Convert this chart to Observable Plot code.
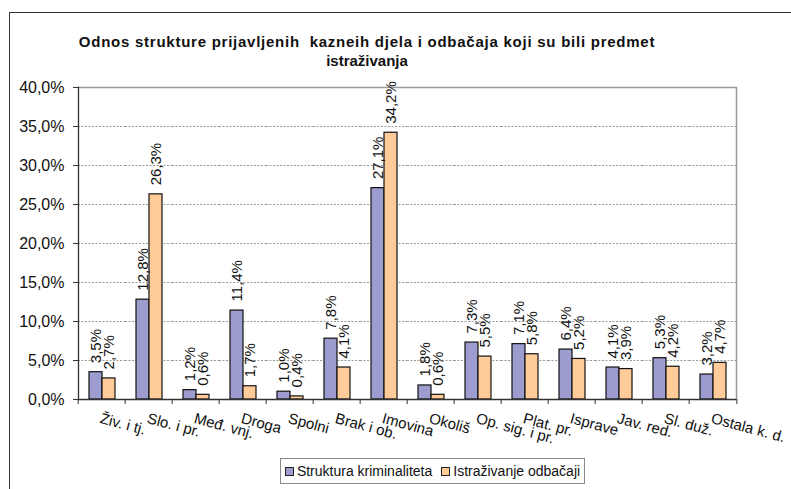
<!DOCTYPE html>
<html>
<head>
<meta charset="utf-8">
<script src="https://cdn.jsdelivr.net/npm/d3@7"></script>
<script src="https://cdn.jsdelivr.net/npm/@observablehq/plot@0.6"></script>
<style>
  html, body { margin: 0; padding: 0; background: #fff; overflow: hidden; }
  #wrap { position: relative; width: 791px; height: 489px; overflow: hidden; font-family: "Liberation Sans", Arial, sans-serif; color: #111; }
  #outer { position: absolute; left: 9px; top: 12px; right: -5px; bottom: -5px; border-top: 1.5px solid #333; border-left: 1.5px solid #333; }
  #title { position: absolute; left: 67px; width: 600px; top: 32px; text-align: center; font-weight: bold; font-size: 15px; line-height: 19px; white-space: pre; }
  #title .l1 { letter-spacing: 0.75px; }
  #chart { position: absolute; left: 0; top: 0; }
  #legend { position: absolute; left: 280px; top: 458px; width: 303px; height: 24px; border: 1px solid #888; display: flex; align-items: center; justify-content: center; gap: 9px; font-size: 14px; background: #fff; }
  .item { display: flex; align-items: center; gap: 3px; }
  .sw { width: 7px; height: 7px; border: 1px solid #222; display: inline-block; }
</style>
</head>
<body>
<div id="wrap">
  <div id="outer"></div>
  <div id="chart"></div>
  <div id="title"></div>
  <div id="legend"></div>
</div>
<script>
const titleLines = ["Odnos strukture prijavljenih  kazneih djela i odbačaja koji su bili predmet", "istraživanja"];
const categories = ["Živ. i tj.", "Slo. i pr.", "Međ. vnj.", "Droga", "Spolni", "Brak i ob.", "Imovina", "Okoliš", "Op. sig. i pr.", "Plat. pr.", "Isprave", "Jav. red.", "Sl. duž.", "Ostala k. d."];
const seriesNames = ["Struktura kriminaliteta", "Istraživanje odbačaji"];
const strukturaKriminaliteta = [3.5, 12.8, 1.2, 11.4, 1.0, 7.8, 27.1, 1.8, 7.3, 7.1, 6.4, 4.1, 5.3, 3.2];
const istrazivanjeOdbacaji = [2.7, 26.3, 0.6, 1.7, 0.4, 4.1, 34.2, 0.6, 5.5, 5.8, 5.2, 3.9, 4.2, 4.7];
const yTicks = [0, 5, 10, 15, 20, 25, 30, 35, 40];
const seriesColors = ["#9C9CCE", "#FFCC99"];

const data = categories.flatMap((c, i) => [
  {cat: c, series: seriesNames[0], value: strukturaKriminaliteta[i]},
  {cat: c, series: seriesNames[1], value: istrazivanjeOdbacaji[i]}
]);

const fmt = v => v.toFixed(1).replace(".", ",") + "%";

const W = 791, H = 489, mL = 73, mR = 50, mT = 87, mB = 90;
const step = (W - mL - mR) / categories.length;

const chart = Plot.plot({
  width: W, height: H,
  marginLeft: mL, marginRight: mR, marginTop: mT, marginBottom: mB,
  style: {fontFamily: "'Liberation Sans', Arial, sans-serif", fontSize: "15px", color: "#111", background: "transparent", overflow: "visible"},
  fx: {domain: categories, paddingInner: 0, paddingOuter: 0, label: null},
  x: {domain: seriesNames, paddingInner: 0, paddingOuter: 0.76, axis: null},
  y: {domain: [0, 40], label: null},
  color: {domain: seriesNames, range: seriesColors},
  marks: [
    Plot.gridY(yTicks.slice(1, -1), {stroke: "#9a9a9a", strokeOpacity: 1, strokeDasharray: "2,1.5"}),
    Plot.ruleY([40], {stroke: "#9a9a9a", strokeWidth: 1.5}),
    Plot.frame({anchor: "right", facetAnchor: "right", stroke: "#9a9a9a", strokeWidth: 1.5}),
    Plot.barY(data, {fx: "cat", x: "series", y: "value", fill: "series", stroke: "#111", strokeWidth: 1.2}),
    Plot.text(data, {fx: "cat", x: "series", y: "value", text: d => fmt(d.value), rotate: -90, textAnchor: "start", dy: -9, fontSize: 15, fill: "#111"}),
    Plot.ruleY([0], {stroke: "#333", strokeWidth: 1.3}),
    Plot.frame({anchor: "left", facetAnchor: "left", stroke: "#333", strokeWidth: 1.3}),
    Plot.axisY({ticks: yTicks, tickFormat: fmt, tickSize: 5, tickPadding: 9, fontSize: 16, label: null, stroke: "#333"}),
    Plot.axisFx({anchor: "bottom", tickSize: 5, text: null, dx: -step / 2, stroke: "#333", label: null}),
    Plot.axisFx({anchor: "bottom", ticks: [categories[categories.length - 1]], tickSize: 5, text: null, dx: step / 2, stroke: "#333", label: null}),
    Plot.axisFx({anchor: "bottom", tickSize: 0, tickPadding: 13, tickRotate: 15, textAnchor: "start", lineAnchor: "top", fontSize: 15, label: null})
  ]
});
document.getElementById("chart").appendChild(chart);

const title = document.getElementById("title");
titleLines.forEach((line, i) => {
  const d = document.createElement("div");
  d.className = "l" + (i + 1);
  d.textContent = line;
  title.appendChild(d);
});

const legend = document.getElementById("legend");
seriesNames.forEach((name, i) => {
  const item = document.createElement("span");
  item.className = "item";
  const sw = document.createElement("span");
  sw.className = "sw";
  sw.style.background = seriesColors[i];
  const t = document.createElement("span");
  t.textContent = name;
  item.appendChild(sw);
  item.appendChild(t);
  legend.appendChild(item);
});
</script>
</body>
</html>
